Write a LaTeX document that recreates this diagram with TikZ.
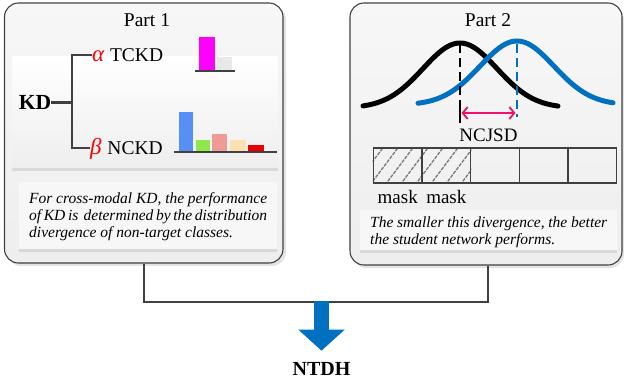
\documentclass[tikz,border=0pt]{standalone}
\usepackage{fontspec}
\setmainfont{Liberation Serif}
\usetikzlibrary{arrows.meta}
\definecolor{boxline}{HTML}{404040}
\definecolor{outtop}{HTML}{F7F7F7}
\definecolor{outbot}{HTML}{EEEEEE}
\definecolor{shadowgray}{HTML}{D9D9D9}
\definecolor{outshadow}{HTML}{E4E4E4}
\definecolor{arrowblue}{HTML}{0070C0}
\definecolor{curveblue}{HTML}{0070C0}
\definecolor{pinkarrow}{HTML}{F0116E}
\definecolor{barmagenta}{HTML}{FF00FF}
\definecolor{barlight}{HTML}{E8E8E8}
\definecolor{barblue}{HTML}{5690F5}
\definecolor{bargreen}{HTML}{8EE84A}
\definecolor{barpink}{HTML}{F09A96}
\definecolor{barwheat}{HTML}{FBE0B0}
\definecolor{barred}{HTML}{E80000}
\definecolor{hatchgray}{HTML}{777777}
\begin{document}
\begin{tikzpicture}[x=1pt,y=-1pt,
  outerbox/.style={draw=boxline, line width=1.1pt, rounded corners=14pt, top color=outtop, bottom color=outbot, inner sep=0pt},
  outershadow/.style={fill=outshadow, rounded corners=14pt},
  panel/.style={top color=white, bottom color=outbot, inner sep=0pt},
  descbox/.style={fill=white!97!black, inner sep=0pt},
  title/.style={font=\fontsize{19.5}{22}\selectfont, inner sep=0pt, anchor=base},
  lbl/.style={font=\fontsize{19}{22}\selectfont, inner sep=0pt},
  treelbl/.style={font=\fontsize{19.5}{22}\selectfont, inner sep=0pt, outer sep=0pt, text height=12.9pt, text depth=0pt, anchor=west},
  desc/.style={font=\fontsize{15.5}{17}\selectfont\itshape, inner sep=0pt, anchor=base west},
  tree/.style={draw=boxline, line width=2.5pt},
  baseline/.style={draw=boxline, line width=2pt},
  cell/.style={draw=boxline, line width=1.3pt, minimum width=48.67pt, minimum height=35pt, inner sep=0pt},
  hatch/.style={draw=hatchgray, line width=1.3pt, dash pattern=on 3.5pt off 1.2pt},
  conn/.style={draw=boxline, line width=2pt},
  gauss/.style={line width=5pt, line cap=round}
]
\useasboundingbox (0,0) rectangle (624,384);

% ---------- outer boxes ----------
\fill[outershadow] (7,6) rectangle (286,266);
\node[outerbox, minimum width=278.5pt, minimum height=260pt] (p1) at (143.75,133) {};
\fill[outershadow] (352.5,6) rectangle (624,268);
\node[outerbox, minimum width=272pt, minimum height=262pt] (p2) at (486,134) {};

\node[title] (t1) at (147,26) {Part 1};
\node[title] (t2) at (488,26) {Part 2};

% ---------- Part 1 ----------
\node[panel, minimum width=266pt, minimum height=112pt] (pan1) at (145,112) {};
\fill[shadowgray] (pan1.south west) rectangle ([yshift=-3pt]pan1.south east);

\node[treelbl, font=\fontsize{21.5}{24}\selectfont\bfseries, text height=14.4pt] (kd) at (19,102.5) {KD};
\node[treelbl] (tckd) at (92,55) {{\fontsize{23}{24}\selectfont\color{red}\itshape α}\hspace{6pt}TCKD};
\node[treelbl] (nckd) at (90,148) {{\fontsize{23}{24}\selectfont\color{red}\itshape β}\hspace{6pt}NCKD};
\coordinate (fork) at (72,102.5);
\draw[tree] (kd.east) -- (fork);
\draw[tree] (fork) |- (tckd.west);
\draw[tree] (fork) |- (nckd.west);

% TCKD bars
\fill[barmagenta] (199,37) rectangle (215,70);
\fill[barlight] (217,57) rectangle (232,70);
\draw[baseline] (195,70.7) -- (235,70.7);
% NCKD bars
\fill[barblue] (179,112) rectangle (193,151);
\fill[bargreen] (196,140) rectangle (210,151);
\fill[barpink] (212,134) rectangle (227,151);
\fill[barwheat] (230,140) rectangle (246,151);
\fill[barred] (248,145) rectangle (264,151);
\draw[baseline] (174,151.5) -- (277,151.5);

% description box 1
\node[descbox, minimum width=258pt, minimum height=67pt] (d1) at (148,215.5) {};
\fill[shadowgray] (d1.south west) rectangle ([yshift=-3pt]d1.south east);
\node[desc] (l11) at (29,203) {\makebox[238pt][s]{For cross-modal KD, the performance}};
\node[desc] (l12) at (29,220) {\makebox[238pt][s]{of KD is\ \ determined by the distribution}};
\node[desc] (l13) at (29,237) {divergence of non-target classes.};

% ---------- Part 2 ----------
\draw[gauss, black] plot[domain=363:558, samples=90] (\x, {108-65*exp(-0.5*((\x-460)/37)*((\x-460)/37))});
\draw[gauss, curveblue] plot[domain=418:613, samples=90] (\x, {105-64*exp(-0.5*((\x-517)/37)*((\x-517)/37))});
\draw[black, line width=1.6pt, dash pattern=on 9pt off 5pt] (460,44) -- (460,104);
\draw[black, line width=1.6pt] (460,104) -- (460,123);
\draw[curveblue, line width=1.6pt, dash pattern=on 9pt off 5pt] (517,44) -- (517,117);
\draw[pinkarrow, line width=1.8pt, {Straight Barb[length=5pt,width=12pt]}-{Straight Barb[length=5pt,width=12pt]}] (461.5,113) -- (515.5,113);
\node[lbl, anchor=base] (ncjsd) at (488.5,141) {NCJSD};

% mask cells
\node[cell] (c1) at (397.7,165.5) {};
\node[cell] (c2) at (446.3,165.5) {};
\node[cell] (c3) at (495,165.5) {};
\node[cell] (c4) at (543.7,165.5) {};
\node[cell] (c5) at (592.3,165.5) {};
\begin{scope}
  \clip (c1.south west) rectangle (c2.north east);
  \foreach \i in {340,355,...,480} \draw[hatch] (\i,185) -- ++(30,-40);
\end{scope}
\node[cell] at (c1) {};
\node[cell] at (c2) {};
\node[lbl, anchor=base] (m1) at (397.7,203) {mask};
\node[lbl, anchor=base] (m2) at (446.3,203) {mask};

% description box 2
\node[descbox, minimum width=257pt, minimum height=40pt] (d2) at (488.5,230) {};
\fill[shadowgray] (d2.south west) rectangle ([yshift=-3pt]d2.south east);
\node[desc] (l21) at (370,227) {\makebox[237pt][s]{The smaller this divergence, the better}};
\node[desc] (l22) at (370,244) {the student network performs.};

% ---------- bottom ----------
\node[font=\fontsize{20}{22}\selectfont\bfseries, inner sep=0pt, anchor=base] (ntdh) at (321.5,375) {NTDH};
\coordinate (j) at (321.5,302);
\draw[conn] (p1.south) |- (j) -| ([xshift=2pt]p2.south);
\draw[arrowblue, line width=15pt, -{Triangle[width=45pt,length=21pt]}] ([yshift=1pt]j) -- ([yshift=11pt]ntdh.north);
\end{tikzpicture}
\end{document}
